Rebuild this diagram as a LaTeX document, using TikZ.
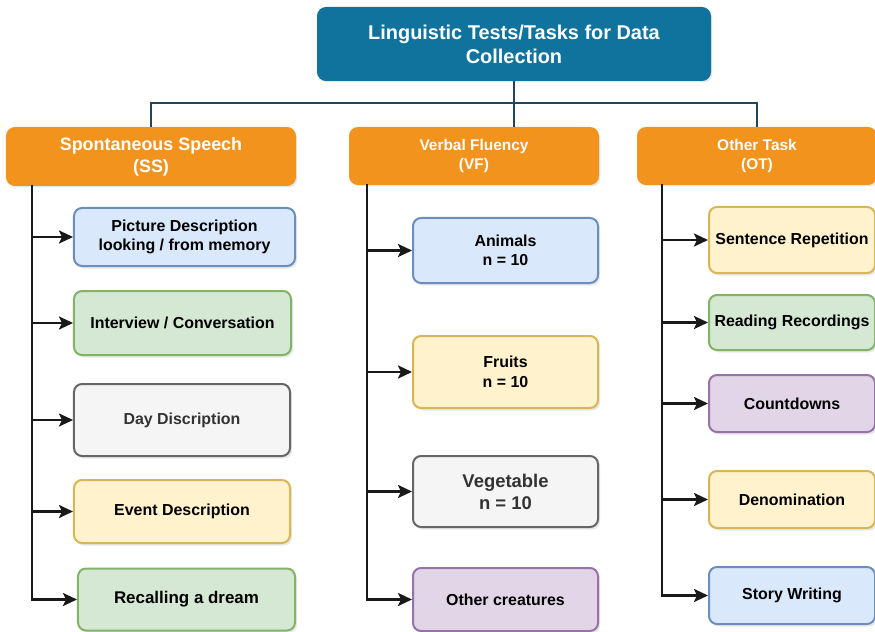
\documentclass[tikz,border=0pt]{standalone}
\usepackage{fontspec}
\setmainfont{Liberation Sans}
\usetikzlibrary{arrows.meta,shadows}
\definecolor{titleblue}{HTML}{10739E}
\definecolor{hdrorange}{HTML}{F2931E}
\definecolor{busline}{HTML}{23445D}
\definecolor{bluefill}{HTML}{DAE8FC}\definecolor{blueline}{HTML}{6C8EBF}
\definecolor{greenfill}{HTML}{D5E8D4}\definecolor{greenline}{HTML}{82B366}
\definecolor{grayfill}{HTML}{F5F5F5}\definecolor{grayline}{HTML}{666666}\definecolor{graytext}{HTML}{333333}
\definecolor{yellowfill}{HTML}{FFF2CC}\definecolor{yellowline}{HTML}{D6B656}
\definecolor{purplefill}{HTML}{E1D5E7}\definecolor{purpleline}{HTML}{9673A6}
\tikzset{
  base/.style={rectangle, rounded corners=8bp, line width=2bp, align=center, inner sep=0pt,
    drop shadow={opacity=0.18, shadow xshift=2bp, shadow yshift=-2.5bp}},
  titlebox/.style={base, fill=titleblue, draw=titleblue, text=white, font=\fontsize{20}{24}\selectfont\bfseries},
  hdr/.style={base, fill=hdrorange, draw=hdrorange, text=white, font=\fontsize{15.5}{19}\selectfont\bfseries},
  task/.style={base, font=\fontsize{16}{19.5}\selectfont\bfseries},
  bluebox/.style={task, fill=bluefill, draw=blueline},
  greenbox/.style={task, fill=greenfill, draw=greenline},
  graybox/.style={task, fill=grayfill, draw=grayline, text=graytext},
  yellowbox/.style={task, fill=yellowfill, draw=yellowline},
  purplebox/.style={task, fill=purplefill, draw=purpleline},
  bus/.style={draw=busline, line width=2.8bp},
  arr/.style={draw=black!90, line width=2.4bp, -{Stealth[length=14bp,width=13bp,inset=3bp]}},
}
\begin{document}
\begin{tikzpicture}[x=1bp,y=-1bp]
\useasboundingbox (0,0) rectangle (875,632);
\clip (0,0) rectangle (875,632);

% title
\node[titlebox, minimum width=392bp, minimum height=72bp] (title) at (514,44) {Linguistic Tests/Tasks for Data\\Collection};

% headers
\node[hdr, minimum width=288bp, minimum height=57bp, font=\fontsize{18}{22}\selectfont\bfseries] (ss) at (151,156.5) {Spontaneous Speech\\(SS)};
\node[hdr, minimum width=248bp, minimum height=56bp] (vf) at (474,156) {Verbal Fluency\\(VF)};
\node[hdr, minimum width=238bp, minimum height=56bp] (ot) at (757,156) {Other Task\\(OT)};

% bus
\coordinate (bus) at (0,103);
\draw[bus] (title.south) -- (title.south |- vf.north);
\draw[bus] (ss.north) -- (ss.north |- bus) -- (ot.north |- bus) -- (ot.north);

% SS children
\node[bluebox, minimum width=221bp, minimum height=58bp] (pd) at (184.5,237) {Picture Description\\looking / from memory};
\node[greenbox, minimum width=217bp, minimum height=64bp] (ic) at (182.5,323) {Interview / Conversation};
\node[graybox, minimum width=216bp, minimum height=72bp] (dd) at (182,420) {Day Discription};
\node[yellowbox, minimum width=216bp, minimum height=63bp] (ed) at (182,511.5) {Event Description};
\node[greenbox, minimum width=217bp, minimum height=62bp, font=\fontsize{17}{19}\selectfont\bfseries] (rd) at (186.5,599.5) {Recalling a dream};

% VF children
\node[bluebox, minimum width=185bp, minimum height=65bp] (an) at (505.5,250.5) {Animals\\n = 10};
\node[yellowbox, minimum width=185bp, minimum height=72bp] (fr) at (505.5,372) {Fruits\\n = 10};
\node[graybox, minimum width=185bp, minimum height=71bp, font=\fontsize{18.5}{22}\selectfont\bfseries] (vg) at (505.5,491.5) {Vegetable\\n = 10};
\node[purplebox, minimum width=185bp, minimum height=63bp] (oc) at (505.5,599.5) {Other creatures};

% OT children
\node[yellowbox, minimum width=166bp, minimum height=66bp] (sr) at (792,240) {Sentence Repetition};
\node[greenbox, minimum width=166bp, minimum height=55bp] (rr) at (792,322.5) {Reading Recordings};
\node[purplebox, minimum width=166bp, minimum height=57bp] (cd) at (792,403.5) {Countdowns};
\node[yellowbox, minimum width=166bp, minimum height=57bp] (dn) at (792,499.5) {Denomination};
\node[bluebox, minimum width=166bp, minimum height=57bp] (sw) at (792,595.5) {Story Writing};

% spines
\coordinate (ssS) at (32,185);
\coordinate (vfS) at (367,184);
\coordinate (otS) at (662,184);
\foreach \c in {pd,ic,dd,ed,rd} \draw[arr] (ssS) |- (\c.west);
\foreach \c in {an,fr,vg,oc} \draw[arr] (vfS) |- (\c.west);
\foreach \c in {sr,rr,cd,dn,sw} \draw[arr] (otS) |- (\c.west);
\end{tikzpicture}
\end{document}
